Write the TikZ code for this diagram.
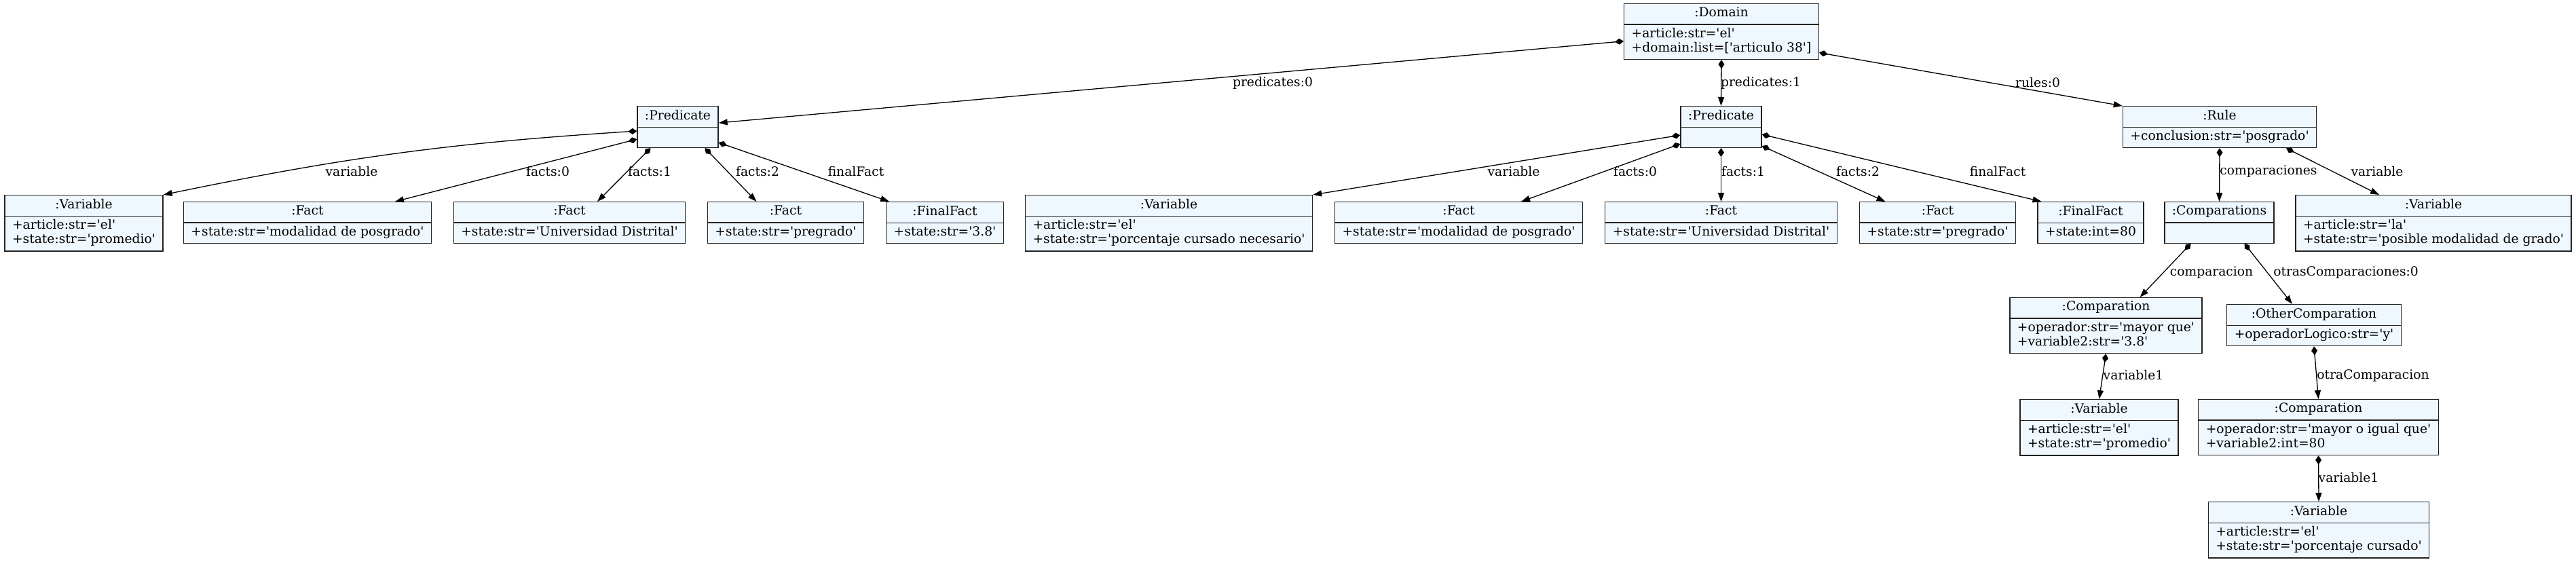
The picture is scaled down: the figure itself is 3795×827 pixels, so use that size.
\documentclass[tikz,border=0pt]{standalone}
\usepackage{fontspec}
\setmainfont{DejaVu Serif}[Ligatures=TeXOff]
\usepackage{tikz}
\usetikzlibrary{shapes.multipart,arrows.meta}

\begin{document}
\begin{tikzpicture}[
  x=1pt, y=1pt,
  oBox/.style={rectangle split, rectangle split parts=2,
    rectangle split part align={center,left},
    align=left, anchor=north,
    inner xsep=11pt, inner ysep=4.5pt,
    fill={rgb,255:red,240;green,248;blue,255},
    draw={rgb,255:red,34;green,34;blue,34},
    line width=1.3pt, font=\fontsize{18.7}{20}\selectfont},
  oArr/.style={{Diamond[length=13pt,width=9pt]}-{Triangle[length=13pt,width=9pt]},
    line width=1.3pt},
  oLbl/.style={inner sep=0pt, font=\fontsize{18.7}{20}\selectfont},
]
  \path[fill=white] (0,0) rectangle (3795,-827);
  \useasboundingbox (0,0) rectangle (3795,-827);

  %% ── Top level ───────────────────────────────────────────────
  \node[oBox] (dom) at (2536,-5) {\strut:Domain
    \nodepart{two}\strut+article:str='el'\\\strut+domain:list=['articulo 38']};
  \node[oBox] (predL) at (998.5,-156) {\strut:Predicate \nodepart{two}\strut};
  \node[oBox] (predM) at (2535.5,-156) {\strut:Predicate \nodepart{two}\strut};
  \node[oBox] (rule) at (3270,-156) {\strut:Rule
    \nodepart{two}\strut+conclusion:str='posgrado'};

  %% ── Objects of the first predicate ──────────────────────────
  \node[oBox] (varA) at (123.5,-287) {\strut:Variable
    \nodepart{two}\strut+article:str='el'\\\strut+state:str='promedio'};
  \node[oBox] (factA0) at (453,-297) {\strut:Fact
    \nodepart{two}\strut+state:str='modalidad de posgrado'};
  \node[oBox] (factA1) at (839,-297) {\strut:Fact
    \nodepart{two}\strut+state:str='Universidad Distrital'};
  \node[oBox] (factA2) at (1157.5,-297) {\strut:Fact
    \nodepart{two}\strut+state:str='pregrado'};
  \node[oBox] (finA) at (1392,-297) {\strut:FinalFact
    \nodepart{two}\strut+state:str='3.8'};

  %% ── Objects of the second predicate ─────────────────────────
  \node[oBox] (varB) at (1722,-287) {\strut:Variable
    \nodepart{two}\strut+article:str='el'\\\strut+state:str='porcentaje cursado necesario'};
  \node[oBox] (factB0) at (2149,-297) {\strut:Fact
    \nodepart{two}\strut+state:str='modalidad de posgrado'};
  \node[oBox] (factB1) at (2535.5,-297) {\strut:Fact
    \nodepart{two}\strut+state:str='Universidad Distrital'};
  \node[oBox] (factB2) at (2854.5,-297) {\strut:Fact
    \nodepart{two}\strut+state:str='pregrado'};
  \node[oBox] (finB) at (3080,-297) {\strut:FinalFact
    \nodepart{two}\strut+state:int=80};

  %% ── Rule side ───────────────────────────────────────────────
  \node[oBox] (cmps) at (3269.5,-297) {\strut:Comparations \nodepart{two}\strut};
  \node[oBox] (varC) at (3585,-287) {\strut:Variable
    \nodepart{two}\strut+article:str='la'\\\strut+state:str='posible modalidad de grado'};
  \node[oBox] (cmpA) at (3102.5,-438) {\strut:Comparation
    \nodepart{two}\strut+operador:str='mayor que'\\\strut+variable2:str='3.8'};
  \node[oBox] (other) at (3409,-448) {\strut:OtherComparation
    \nodepart{two}\strut+operadorLogico:str='y'};
  \node[oBox] (varD) at (3092.5,-588) {\strut:Variable
    \nodepart{two}\strut+article:str='el'\\\strut+state:str='promedio'};
  \node[oBox] (cmpB) at (3415.5,-588) {\strut:Comparation
    \nodepart{two}\strut+operador:str='mayor o igual que'\\\strut+variable2:int=80};
  \node[oBox] (varE) at (3416,-739) {\strut:Variable
    \nodepart{two}\strut+article:str='el'\\\strut+state:str='porcentaje cursado'};

  %% ── Edge labels ─────────────────────────────────────────────
  \node[oLbl] (lPredA) at (1875,-122) {predicates:0};
  \node[oLbl] (lPredB) at (2594,-122) {predicates:1};
  \node[oLbl] (lRules) at (3002,-122) {rules:0};
  \node[oLbl] (lVarA) at (518,-253) {variable};
  \node[oLbl] (lFactA0) at (807,-253) {facts:0};
  \node[oLbl] (lFactA1) at (957,-253) {facts:1};
  \node[oLbl] (lFactA2) at (1116,-253) {facts:2};
  \node[oLbl] (lFinA) at (1261,-253) {finalFact};
  \node[oLbl] (lVarB) at (2230,-253) {variable};
  \node[oLbl] (lFactB0) at (2409,-253) {facts:0};
  \node[oLbl] (lFactB1) at (2568,-253) {facts:1};
  \node[oLbl] (lFactB2) at (2737,-253) {facts:2};
  \node[oLbl] (lFinB) at (2943,-253) {finalFact};
  \node[oLbl] (lCmps) at (3342,-253) {comparaciones};
  \node[oLbl] (lVarC) at (3502,-253) {variable};
  \node[oLbl] (lCmpA) at (3258,-402) {comparacion};
  \node[oLbl] (lOther) at (3456,-402) {otrasComparaciones:0};
  \node[oLbl] (lVarD) at (3143,-553) {variable1};
  \node[oLbl] (lCmpB) at (3496,-553) {otraComparacion};
  \node[oLbl] (lVarE) at (3460,-704) {variable1};

  %% ── Composition edges ───────────────────────────────────────
  \draw[oArr] ([yshift=-14pt]dom.west) -- ([yshift=6pt]predL.east);
  \draw[oArr] ([yshift=-31pt]dom.east) -- (rule.north west);

  \draw[oArr] ([yshift=-6pt]predL.west) to[bend right=4] (varA.north east);
  \draw[oArr] ([yshift=-18pt]predL.west) -- ([xshift=129pt]factA0.north);
  \draw[oArr] ([xshift=-40pt]predL.south) -- ([xshift=41pt]factA1.north);
  \draw[oArr] ([xshift=40pt]predL.south) -- ([xshift=-43pt]factA2.north);
  \draw[oArr] ([yshift=-23pt]predL.east) -- ([xshift=5pt]finA.north west);

  \draw[oArr] ([yshift=-12pt]predM.west) -- (varB.north east);
  \draw[oArr] ([yshift=-25pt]predM.west) -- ([xshift=92pt]factB0.north);
  \draw[oArr] ([yshift=-28pt]predM.east) -- ([xshift=-77pt]factB2.north);
  \draw[oArr] ([yshift=-11pt]predM.east) -- ([xshift=6pt]finB.north west);

  \draw[oArr] ([xshift=98pt]rule.south) -- ([xshift=-80pt]varC.north);
  \draw[oArr] ([xshift=-42pt]cmps.south) -- ([xshift=50pt]cmpA.north);
  \draw[oArr] ([xshift=37pt]cmps.south) -- ([xshift=-32pt]other.north);

  \foreach \f/\t in {dom/predM, predM/factB1, rule/cmps,
      cmpA/varD, other/cmpB, cmpB/varE}
    \draw[oArr] (\f.south) -- (\t.north);

\end{tikzpicture}
\end{document}
